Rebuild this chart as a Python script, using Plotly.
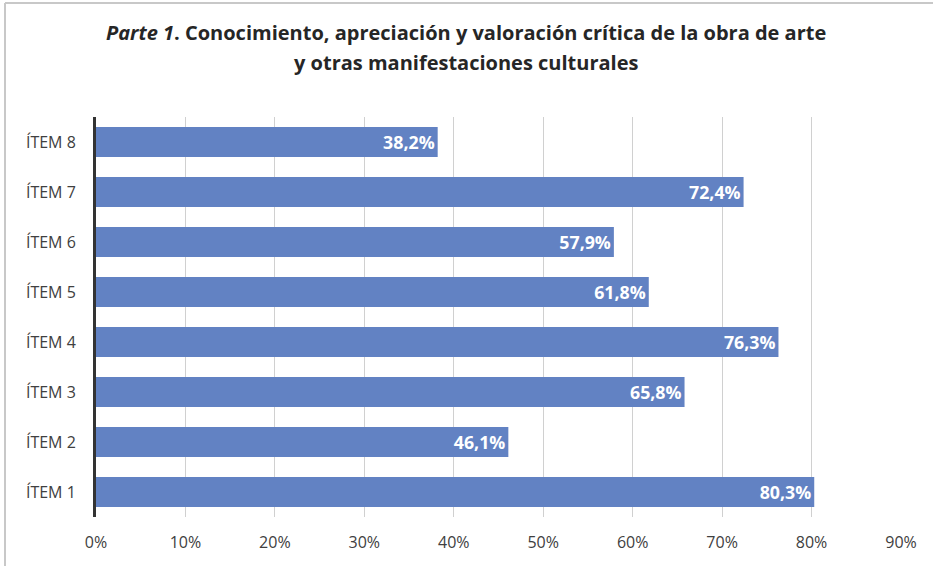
import plotly.graph_objects as go

items = ["ÍTEM 1", "ÍTEM 2", "ÍTEM 3", "ÍTEM 4", "ÍTEM 5", "ÍTEM 6", "ÍTEM 7", "ÍTEM 8"]
values = [80.3, 46.1, 65.8, 76.3, 61.8, 57.9, 72.4, 38.2]
labels = ["80,3%", "46,1%", "65,8%", "76,3%", "61,8%", "57,9%", "72,4%", "38,2%"]
tick_vals = [0, 10, 20, 30, 40, 50, 60, 70, 80, 90]
tick_text = ["0%", "10%", "20%", "30%", "40%", "50%", "60%", "70%", "80%", "90%"]
title_line1 = "<b><i>Parte 1</i>. Conocimiento, apreciación y valoración crítica de la obra de arte</b>"
title_line2 = "<b>y otras manifestaciones culturales</b>"

W, H = 933, 566
L, R, T, B = 96, 32, 117, 49
pw, ph = W - L - R, H - T - B

def px_x(x):
    return (x - L) / pw

def px_y(y):
    return (H - B - y) / ph

fig = go.Figure(go.Bar(
    y=items, x=values, orientation="h",
    marker=dict(color="#6282C3", line=dict(width=0)),
    text=labels, textposition="inside", insidetextanchor="end",
    textfont=dict(family="Open Sans", size=20, color="white", weight="bold"),
    cliponaxis=False,
))

fig.update_layout(
    width=W, height=H,
    margin=dict(l=L, r=R, t=T, b=B),
    paper_bgcolor="white", plot_bgcolor="white",
    bargap=0.4,
    showlegend=False,
    xaxis=dict(
        range=[0, 90], tickvals=tick_vals, ticktext=tick_text,
        showgrid=True, gridcolor="#d0d0d0", gridwidth=1,
        zeroline=False, showline=False,
        tickfont=dict(family="Open Sans", size=16, color="#404040"),
        ticks="", ticklabelstandoff=14,
    ),
    yaxis=dict(
        categoryorder="array", categoryarray=items,
        showline=True, linecolor="#333333", linewidth=3,
        ticks="", ticklabelstandoff=14,
        tickfont=dict(family="Open Sans", size=16, color="#404040"),
    ),
    annotations=[
        dict(text=title_line1, xref="paper", yref="paper", x=px_x(466), y=px_y(32),
             xanchor="center", yanchor="middle", showarrow=False,
             font=dict(family="Open Sans", size=20, color="#262626")),
        dict(text=title_line2, xref="paper", yref="paper", x=px_x(466), y=px_y(62),
             xanchor="center", yanchor="middle", showarrow=False,
             font=dict(family="Open Sans", size=20, color="#262626")),
    ],
    shapes=[
        dict(type="line", xref="paper", yref="paper",
             x0=px_x(5), x1=px_x(933), y0=px_y(3), y1=px_y(3),
             line=dict(color="#c8c8c8", width=2)),
        dict(type="line", xref="paper", yref="paper",
             x0=px_x(5), x1=px_x(5), y0=px_y(3), y1=px_y(566),
             line=dict(color="#c8c8c8", width=2)),
    ],
)

fig.write_html("out.html", config={"displayModeBar": False},
               post_script="document.body.style.margin='0';document.body.style.overflow='hidden';")
